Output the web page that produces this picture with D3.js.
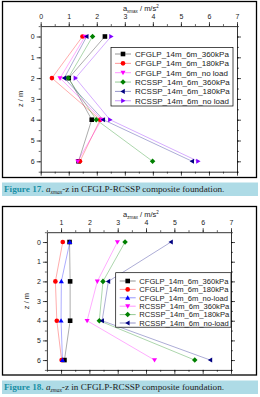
<!DOCTYPE html>
<html><head><meta charset="utf-8">
<script src="https://cdn.jsdelivr.net/npm/d3@7"></script>
<style>body{margin:0;background:#fff}svg{display:block}</style>
</head><body>
<script>
// ---- data ----
const zLevels = [0, 2, 4, 6];
const zTicks = [0, 1, 2, 3, 4, 5, 6];
const xTicks1 = [0, 1, 2, 3, 4, 5, 6, 7];
const xTicks2 = [1, 2, 3, 4, 5, 6, 7];

const names1 = ["CFGLP_14m_6m_360kPa", "CFGLP_14m_6m_180kPa", "CFGLP_14m_6m_no load",
                "RCSSP_14m_6m_360kPa", "RCSSP_14m_6m_180kPa", "RCSSP_14m_6m_no load"];
const ax_CFGLP_360 = [2.29, 1.00, 1.82, 1.35];
const ax_CFGLP_180 = [1.49, 0.40, 2.12, 1.40];
const ax_CFGLP_noload = [1.58, 0.69, 2.17, 1.32];
const ax_RCSSP_360 = [1.85, 0.98, 1.98, 3.99];
const ax_RCSSP_180 = [1.64, 0.84, 2.23, 5.40];
const ax_RCSSP_noload = [2.51, 1.24, 2.47, 5.61];

const names2 = ["CFGLP_14m_6m_360kPa", "CFGLP_14m_6m_180kPa", "CFGLP_14m_6m_no-load",
                "RCSSP_14m_6m_360kPa", "RCSSP_14m_6m_180kPa", "RCSSP_14m_6m_no-load"];
const az_CFGLP_360 = [1.30, 1.32, 1.32, 1.12];
const az_CFGLP_180 = [1.06, 0.80, 0.85, 1.02];
const az_CFGLP_noload = [1.31, 1.01, 1.00, 1.05];
const az_RCSSP_360 = [2.99, 2.28, 1.92, 4.30];
const az_RCSSP_180 = [3.26, 2.48, 2.35, 5.72];
const az_RCSSP_noload = [4.88, 2.67, 2.45, 6.27];

const caption1 = ["Figure 17. ", "a", "xmax", "-z in CFGLP-RCSSP composite foundation."];
const caption2 = ["Figure 18. ", "a", "zmax", "-z in CFGLP-RCSSP composite foundation."];

// ---- styles ----
const C = {black:"#000000", red:"#ff0000", magenta:"#ff00ff", green:"#008000", navy:"#000080", violet:"#8000ff", blue:"#0000ff"};
const chart1Series = [
  {name:names1[0], v:ax_CFGLP_360, color:C.black, sym:"square"},
  {name:names1[1], v:ax_CFGLP_180, color:C.red, sym:"circle"},
  {name:names1[2], v:ax_CFGLP_noload, color:C.magenta, sym:"down"},
  {name:names1[3], v:ax_RCSSP_360, color:C.green, sym:"diamond"},
  {name:names1[4], v:ax_RCSSP_180, color:C.navy, sym:"left"},
  {name:names1[5], v:ax_RCSSP_noload, color:C.violet, sym:"right"}
];
const chart2Series = [
  {name:names2[0], v:az_CFGLP_360, color:C.black, sym:"square"},
  {name:names2[1], v:az_CFGLP_180, color:C.red, sym:"circle"},
  {name:names2[2], v:az_CFGLP_noload, color:C.blue, sym:"up"},
  {name:names2[3], v:az_RCSSP_360, color:C.magenta, sym:"down"},
  {name:names2[4], v:az_RCSSP_180, color:C.green, sym:"diamond"},
  {name:names2[5], v:az_RCSSP_noload, color:C.navy, sym:"left"}
];

const svg = d3.select("body").append("svg").attr("width", 260).attr("height", 397);

function markerPath(sym, s) {
  const h = s / 2;
  switch (sym) {
    case "square": return `M${-h},${-h}H${h}V${h}H${-h}Z`;
    case "circle": return d3.symbol(d3.symbolCircle, s * s * 0.8)();
    case "diamond": return `M0,${-h*1.2}L${h*1.2},0L0,${h*1.2}L${-h*1.2},0Z`;
    case "up": return `M0,${-h*1.1}L${h*1.1},${h*0.8}L${-h*1.1},${h*0.8}Z`;
    case "down": return `M0,${h*1.1}L${h*1.1},${-h*0.8}L${-h*1.1},${-h*0.8}Z`;
    case "left": return `M${-h*1.1},0L${h*0.8},${-h*1.1}L${h*0.8},${h*1.1}Z`;
    case "right": return `M${h*1.1},0L${-h*0.8},${-h*1.1}L${-h*0.8},${h*1.1}Z`;
  }
}

function drawChart(cfg) {
  const g = svg.append("g");
  // outer frame
  g.append("rect").attr("x", cfg.frame[0]).attr("y", cfg.frame[1])
    .attr("width", cfg.frame[2]).attr("height", cfg.frame[3])
    .attr("fill", "none").attr("stroke", "#000").attr("stroke-width", 1.3);

  const x = d3.scaleLinear().domain(cfg.xDomain).range(cfg.xRange);
  const y = d3.scaleLinear().domain([-0.5, 6.5]).range(cfg.yRange);
  const minorX = d3.range(cfg.xDomain[0], cfg.xDomain[1] + 0.001, 0.5);
  const minorZ = d3.range(-0.5, 6.5 + 0.001, 0.5);

  const axStyle = sel => {
    sel.selectAll(".domain").attr("stroke", "#000").attr("stroke-width", 0.8);
    sel.selectAll(".tick line").attr("stroke", "#000").attr("stroke-width", 0.7);
    sel.selectAll("text").attr("font-family", "Liberation Sans, Arial, sans-serif")
      .attr("font-size", 7).attr("fill", "#222");
  };
  // minor ticks
  const addMinor = (axisFn, scale, vals, tr) => {
    g.append("g").attr("transform", tr)
      .call(axisFn(scale).tickValues(vals).tickSize(2).tickFormat(""))
      .call(s => s.select(".domain").remove())
      .call(s => s.selectAll(".tick line").attr("stroke", "#000").attr("stroke-width", 0.6));
  };
  addMinor(d3.axisTop, x, minorX, `translate(0,${cfg.yRange[0]})`);
  addMinor(d3.axisBottom, x, minorX, `translate(0,${cfg.yRange[1]})`);
  addMinor(d3.axisLeft, y, minorZ, `translate(${cfg.xRange[0]},0)`);
  addMinor(d3.axisRight, y, minorZ, `translate(${cfg.xRange[1]},0)`);

  g.append("g").attr("transform", `translate(0,${cfg.yRange[0]})`)
    .call(d3.axisTop(x).tickValues(cfg.xTicks).tickSize(4).tickSizeOuter(0).tickPadding(3).tickFormat(d3.format("d"))).call(axStyle);
  g.append("g").attr("transform", `translate(0,${cfg.yRange[1]})`)
    .call(d3.axisBottom(x).tickValues(cfg.xTicks).tickSize(4).tickSizeOuter(0).tickFormat("")).call(axStyle);
  g.append("g").attr("transform", `translate(${cfg.xRange[0]},0)`)
    .call(d3.axisLeft(y).tickValues(zTicks).tickSize(4).tickSizeOuter(0).tickPadding(2).tickFormat(d3.format("d"))).call(axStyle);
  g.append("g").attr("transform", `translate(${cfg.xRange[1]},0)`)
    .call(d3.axisRight(y).tickValues(zTicks).tickSize(4).tickSizeOuter(0).tickFormat("")).call(axStyle);

  // axis titles
  const t = g.append("text").attr("x", (cfg.xRange[0] + cfg.xRange[1]) / 2 + 2).attr("y", cfg.yRange[0] - 15)
    .attr("text-anchor", "middle").attr("font-family", "Liberation Sans, Arial, sans-serif")
    .attr("font-size", 7.5).attr("fill", "#222");
  t.append("tspan").text("a");
  t.append("tspan").text(cfg.sub).attr("font-size", 4.5).attr("dy", 1.8);
  t.append("tspan").text(" / m/s").attr("dy", -1.8);
  t.append("tspan").text("2").attr("font-size", 4.5).attr("dy", -3);

  g.append("text").attr("transform", `translate(${cfg.xRange[0] - 18},${y(3)}) rotate(-90)`)
    .attr("text-anchor", "middle").attr("font-family", "Liberation Sans, Arial, sans-serif")
    .attr("font-size", 7.5).attr("fill", "#222").text("z / m");

  // series
  const line = d3.line().x(d => x(d[0])).y(d => y(d[1]));
  cfg.series.forEach(s => {
    const pts = s.v.map((v, i) => [v, zLevels[i]]);
    g.append("path").attr("d", line(pts)).attr("fill", "none")
      .attr("stroke", s.color).attr("stroke-width", 0.6).attr("stroke-opacity", 0.55);
  });
  cfg.series.forEach(s => {
    s.v.forEach((v, i) => {
      g.append("path").attr("d", markerPath(s.sym, 4.6))
        .attr("transform", `translate(${x(v)},${y(zLevels[i])})`).attr("fill", s.color);
    });
  });

  // legend
  const L = cfg.legend;
  g.append("rect").attr("x", L.x).attr("y", L.y).attr("width", L.w).attr("height", L.h)
    .attr("fill", "#fff").attr("stroke", "#000").attr("stroke-width", 0.7);
  cfg.series.forEach((s, i) => {
    const yy = L.y + L.first + i * L.step;
    g.append("line").attr("x1", L.x + 4).attr("x2", L.x + 20).attr("y1", yy).attr("y2", yy)
      .attr("stroke", s.color).attr("stroke-width", 0.6).attr("stroke-opacity", 0.7);
    g.append("path").attr("d", markerPath(s.sym, 4.6)).attr("transform", `translate(${L.x + 12},${yy})`).attr("fill", s.color);
    g.append("text").attr("x", L.x + L.tx).attr("y", yy + 2.8).attr("font-family", "Liberation Sans, Arial, sans-serif")
      .attr("font-size", L.fs).attr("fill", "#222").text(s.name);
  });
}

function drawCaption(y0, parts) {
  svg.append("rect").attr("x", 2).attr("y", y0).attr("width", 256).attr("height", 13.5).attr("fill", "#aedbe6");
  const t = svg.append("text").attr("x", 4).attr("y", y0 + 9.8)
    .attr("font-family", "Liberation Serif, Times New Roman, serif").attr("font-size", 9.2).attr("fill", "#222");
  t.append("tspan").text(parts[0]).attr("fill", "#1a8fa5").attr("font-weight", "bold");
  t.append("tspan").text(parts[1]).attr("font-style", "italic");
  t.append("tspan").text(parts[2]).attr("font-style", "italic").attr("font-size", 5.5).attr("dy", 1.5);
  t.append("tspan").text(parts[3]).attr("dy", -1.5);
}

drawChart({
  frame: [2.5, 1.5, 254, 176], xDomain: [0, 7], xRange: [40.7, 237], yRange: [26.1, 171.7],
  xTicks: xTicks1, sub: "xmax", series: chart1Series,
  legend: {x: 111, y: 47.5, w: 122, h: 58.5, first: 6.5, step: 9.35, tx: 24, fs: 8}
});
drawCaption(182.5, caption1);

drawChart({
  frame: [2.5, 206.5, 254, 168.5], xDomain: [0.5, 7], xRange: [46.9, 231], yRange: [232.2, 369.9],
  xTicks: xTicks2, sub: "zmax", series: chart2Series,
  legend: {x: 115.7, y: 272.7, w: 115.3, h: 54.5, first: 8.3, step: 8.4, tx: 23.6, fs: 7.6}
});
drawCaption(380.5, caption2);
</script>
</body></html>
